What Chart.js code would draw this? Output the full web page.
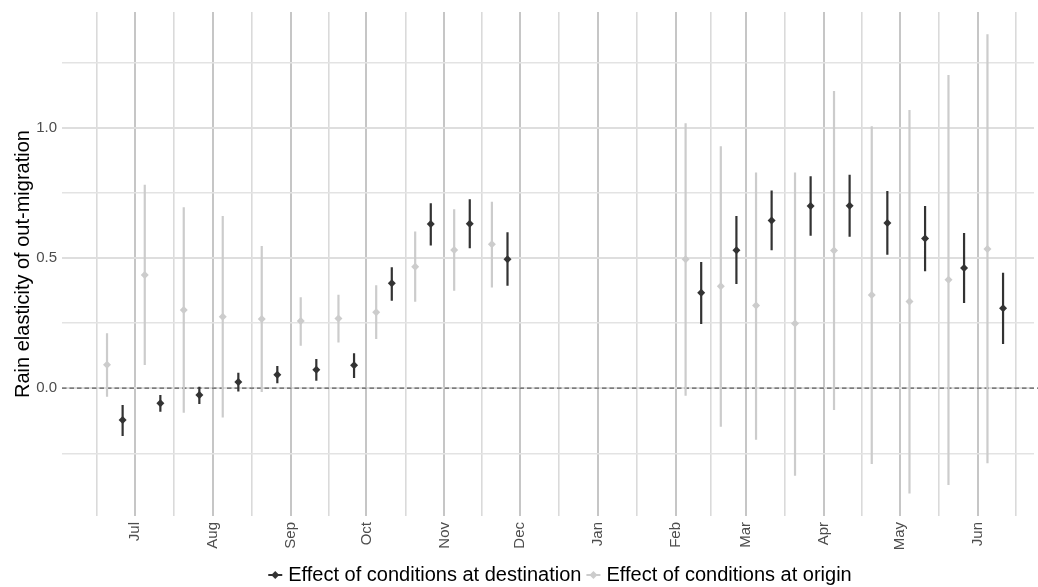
<!DOCTYPE html>
<html>
<head>
<meta charset="utf-8">
<title>Rain elasticity of out-migration</title>
<script src="https://cdn.jsdelivr.net/npm/chart.js@4.4.1/dist/chart.umd.min.js"></script>
<style>
  html, body { margin: 0; padding: 0; background: #ffffff; overflow: hidden; }
  canvas { display: block; }
</style>
</head>
<body>
<canvas id="chart" width="1038" height="587"></canvas>
<script>
// Half-month periods of the migration season (mid-June to mid-June)
const periods = [
  'Jun 16–30', 'Jul 1–15', 'Jul 16–31', 'Aug 1–15', 'Aug 16–31', 'Sep 1–15', 'Sep 16–30',
  'Oct 1–15', 'Oct 16–31', 'Nov 1–15', 'Nov 16–30',
  'Feb 1–15', 'Feb 16–28', 'Mar 1–15', 'Mar 16–31', 'Apr 1–15', 'Apr 16–30',
  'May 1–15', 'May 16–31', 'Jun 1–15'
];
// Midpoint of each period, in days after 1 July
const periodMidDay = [-8, 7, 22.5, 38, 53.5, 69, 84, 99, 114.5, 130, 145,
                      222, 236, 250, 265.5, 281, 296, 311, 326.5, 342];

// Effect of conditions at destination: estimate and interval
const destEstimate = [-0.122, -0.058, -0.026, 0.024, 0.052, 0.071, 0.088, 0.403, 0.630, 0.631, 0.495,
                      0.366, 0.529, 0.644, 0.699, 0.700, 0.634, 0.574, 0.461, 0.307];
const destLow      = [-0.183, -0.090, -0.061, -0.013, 0.019, 0.029, 0.039, 0.336, 0.548, 0.537, 0.393,
                      0.246, 0.400, 0.529, 0.585, 0.581, 0.512, 0.449, 0.327, 0.170];
const destHigh     = [-0.064, -0.026, 0.006, 0.059, 0.085, 0.112, 0.134, 0.464, 0.710, 0.725, 0.598,
                      0.484, 0.661, 0.759, 0.813, 0.819, 0.757, 0.699, 0.596, 0.443];

// Effect of conditions at origin: estimate and interval
const originEstimate = [0.090, 0.434, 0.300, 0.274, 0.266, 0.258, 0.267, 0.291, 0.466, 0.530, 0.552,
                        0.495, 0.391, 0.317, 0.248, 0.528, 0.358, 0.333, 0.416, 0.534];
const originLow      = [-0.033, 0.089, -0.094, -0.112, -0.015, 0.163, 0.175, 0.189, 0.332, 0.374, 0.386,
                        -0.029, -0.148, -0.198, -0.336, -0.084, -0.291, -0.404, -0.371, -0.288];
const originHigh     = [0.211, 0.781, 0.694, 0.661, 0.546, 0.349, 0.359, 0.395, 0.601, 0.687, 0.715,
                        1.017, 0.928, 0.828, 0.828, 1.140, 1.005, 1.068, 1.202, 1.358];

// Month axis (days after 1 July)
const monthStartDay = [0, 31, 62, 92, 123, 153, 184, 215, 243, 274, 304, 335];
const monthLabels   = ['Jul', 'Aug', 'Sep', 'Oct', 'Nov', 'Dec', 'Jan', 'Feb', 'Mar', 'Apr', 'May', 'Jun'];

// Value axis
const yBreaks     = [0, 0.5, 1.0];
const yTickLabels = ['0.0', '0.5', '1.0'];

const seriesNames = ['Effect of conditions at destination', 'Effect of conditions at origin'];

// ---- styling ----
const DARK = '#333333';
const LIGHT = '#cccccc';
const FONT = '"Liberation Sans", Arial, Helvetica, sans-serif';
const DODGE = 3.1;            // half of the dodge width, in days
const X_MIN = -29, X_MAX = 357.4;
const Y_MIN = -0.4904, Y_MAX = 1.4436;

// minor grid lines sit halfway between the breaks, as in ggplot
const monthEdges = [-30, ...monthStartDay, 365];
const minorX = monthEdges.slice(1).map((v, i) => (v + monthEdges[i]) / 2)
  .filter(v => v > X_MIN && v < X_MAX);
const yStep = yBreaks[1] - yBreaks[0];
const yEdges = [yBreaks[0] - yStep, ...yBreaks, yBreaks[yBreaks.length - 1] + yStep];
const minorY = yEdges.slice(1).map((v, i) => (v + yEdges[i]) / 2)
  .filter(v => v > Y_MIN && v < Y_MAX);

function pointSeries(est, shift) {
  return periodMidDay.map((d, i) => ({ x: d + shift, y: est[i] }));
}
function whiskerSeries(lo, hi, shift) {
  const pts = [];
  periodMidDay.forEach((d, i) => {
    pts.push({ x: d + shift, y: lo[i] }, { x: d + shift, y: hi[i] }, { x: d + shift, y: null });
  });
  return pts;
}

// dashed reference line at zero
const zeroLine = {
  id: 'zeroLine',
  beforeDatasetsDraw(chart) {
    const { ctx, chartArea, scales } = chart;
    const y = scales.y.getPixelForValue(0);
    ctx.save();
    ctx.strokeStyle = '#5c5c5c';
    ctx.lineWidth = 1.3;
    ctx.setLineDash([4.5, 3]);
    ctx.beginPath();
    ctx.moveTo(chartArea.left, y);
    ctx.lineTo(chartArea.right + 4, y);
    ctx.stroke();
    ctx.restore();
  }
};

// bottom legend: pointrange keys (line with diamond) followed by the label
const pointrangeLegend = {
  id: 'pointrangeLegend',
  afterDraw(chart) {
    const { ctx, chartArea } = chart;
    const colors = [DARK, LIGHT];
    const keyW = 14, keyGap = 6, itemGap = 5, y = 575;
    ctx.save();
    ctx.font = '20px ' + FONT;
    const widths = seriesNames.map(t => ctx.measureText(t).width);
    const total = widths.reduce((a, w) => a + keyW + keyGap + w, 0) + itemGap * (seriesNames.length - 1);
    let x = (chartArea.left + chartArea.right) / 2 - total / 2 + 12;
    seriesNames.forEach((name, i) => {
      const cx = x + keyW / 2;
      ctx.strokeStyle = colors[i];
      ctx.lineWidth = 2;
      ctx.beginPath();
      ctx.moveTo(x, y);
      ctx.lineTo(x + keyW, y);
      ctx.stroke();
      ctx.fillStyle = colors[i];
      ctx.beginPath();
      ctx.moveTo(cx, y - 4);
      ctx.lineTo(cx + 4, y);
      ctx.lineTo(cx, y + 4);
      ctx.lineTo(cx - 4, y);
      ctx.closePath();
      ctx.fill();
      ctx.fillStyle = '#000000';
      ctx.textBaseline = 'middle';
      ctx.textAlign = 'left';
      ctx.fillText(name, x + keyW + keyGap, y);
      x += keyW + keyGap + widths[i] + itemGap;
    });
    ctx.restore();
  }
};

new Chart(document.getElementById('chart'), {
  type: 'scatter',
  data: {
    datasets: [
      {
        label: seriesNames[0],
        data: pointSeries(destEstimate, DODGE),
        pointStyle: 'rectRot', pointRadius: 4, borderWidth: 0,
        backgroundColor: DARK, borderColor: DARK, order: 0
      },
      {
        label: seriesNames[1],
        data: pointSeries(originEstimate, -DODGE),
        pointStyle: 'rectRot', pointRadius: 4, borderWidth: 0,
        backgroundColor: LIGHT, borderColor: LIGHT, order: 1
      },
      {
        label: seriesNames[0] + ' (interval)',
        data: whiskerSeries(destLow, destHigh, DODGE),
        showLine: true, spanGaps: false, pointRadius: 0,
        borderColor: DARK, borderWidth: 2.2, borderCapStyle: 'butt', order: 2
      },
      {
        label: seriesNames[1] + ' (interval)',
        data: whiskerSeries(originLow, originHigh, -DODGE),
        showLine: true, spanGaps: false, pointRadius: 0,
        borderColor: LIGHT, borderWidth: 2.2, borderCapStyle: 'butt', order: 3
      }
    ]
  },
  options: {
    responsive: false,
    animation: false,
    events: [],
    layout: { padding: { top: 12, right: 0, bottom: 27, left: 0 } },
    plugins: { legend: { display: false }, tooltip: { enabled: false } },
    scales: {
      x: {
        type: 'linear',
        min: X_MIN, max: X_MAX,
        afterBuildTicks(scale) {
          const t = monthStartDay.map(v => ({ value: v, major: true }))
            .concat(minorX.map(v => ({ value: v, major: false })));
          t.sort((a, b) => a.value - b.value);
          scale.ticks = t;
        },
        afterFit(scale) {
          scale.height = 44;
          scale.paddingLeft = 0;
          scale.paddingRight = 0;
        },
        border: { display: false },
        grid: {
          drawTicks: false,
          color: c => (c.tick && c.tick.major) ? '#c6c6c6' : '#dadada',
          lineWidth: c => (c.tick && c.tick.major) ? 2 : 1.6
        },
        ticks: {
          autoSkip: false,
          minRotation: 90, maxRotation: 90,
          padding: 6,
          color: '#4d4d4d',
          font: { family: FONT, size: 15 },
          callback: v => {
            const i = monthStartDay.indexOf(v);
            return i >= 0 ? monthLabels[i] : '';
          }
        }
      },
      y: {
        type: 'linear',
        min: Y_MIN, max: Y_MAX,
        afterBuildTicks(scale) {
          const t = yBreaks.map(v => ({ value: v, major: true }))
            .concat(minorY.map(v => ({ value: v, major: false })));
          t.sort((a, b) => a.value - b.value);
          scale.ticks = t;
        },
        afterFit(scale) {
          scale.width = 62;
          scale.paddingTop = 0;
          scale.paddingBottom = 0;
        },
        border: { display: false },
        grid: {
          drawTicks: false,
          color: c => (c.tick && c.tick.major) ? '#dedede' : '#e3e3e3',
          lineWidth: c => (c.tick && c.tick.major) ? 2 : 1.6
        },
        ticks: {
          padding: 5,
          color: '#4d4d4d',
          font: { family: FONT, size: 15 },
          callback: v => {
            const i = yBreaks.findIndex(b => Math.abs(b - v) < 1e-9);
            return i >= 0 ? yTickLabels[i] : '';
          }
        },
        title: {
          display: true,
          text: 'Rain elasticity of out-migration',
          color: '#000000',
          font: { family: FONT, size: 20 },
          padding: { top: 11, bottom: 0 }
        }
      }
    }
  },
  plugins: [zeroLine, pointrangeLegend]
});
</script>
</body>
</html>
